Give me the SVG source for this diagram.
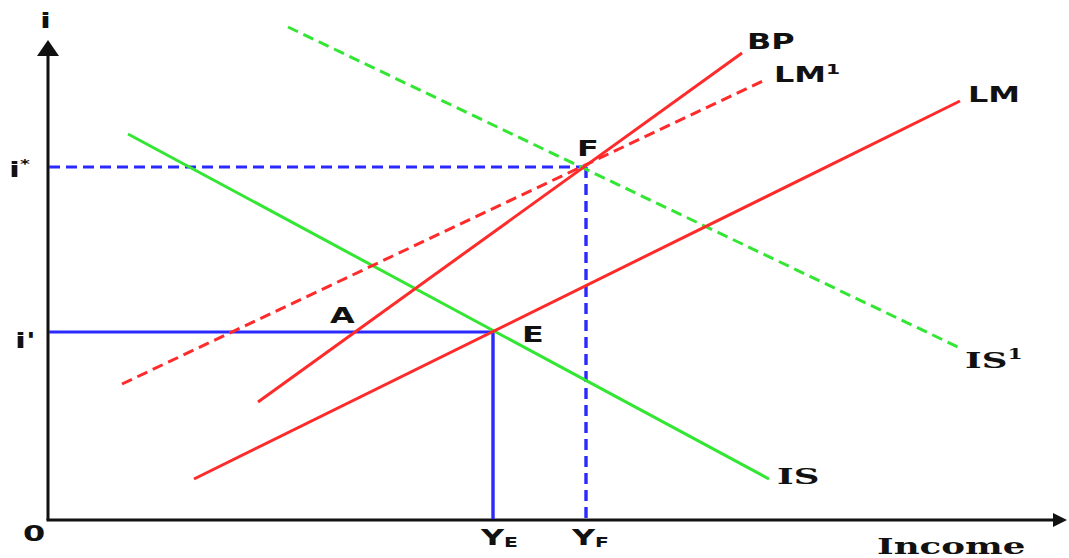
<svg xmlns="http://www.w3.org/2000/svg" width="1069" height="558" viewBox="0 0 1069 558">
<style>
.ax{stroke:#111;stroke-width:3;fill:none}
.ln{fill:none;stroke-width:3;stroke-linecap:butt}
.red{stroke:#ff2a2a}
.grn{stroke:#33e633}
.blu{stroke:#2a2aff}
.dash{stroke-dasharray:11 6}
.s{font-family:"DejaVu Sans",Verdana,sans-serif;font-weight:bold;font-size:22px;fill:#111}
.r{font-family:"DejaVu Serif",serif;font-weight:bold;font-size:23px;fill:#111}
</style>
<rect width="1069" height="558" fill="#fff"/>
<g id="axes">
<line class="ax" x1="48" y1="54" x2="48" y2="520"/>
<line class="ax" x1="46.5" y1="520" x2="1055" y2="520"/>
<polygon points="48,40 37,56 59,56" fill="#111"/>
<polygon points="1067,520 1053,513 1053,527" fill="#111"/>
</g>
<g id="connectors">
<line class="ln blu" x1="49" y1="332" x2="493" y2="332"/>
<line class="ln blu" x1="493" y1="332" x2="493" y2="519" style="stroke-width:3.4"/>
<line class="ln blu dash" x1="49" y1="167" x2="586" y2="167"/>
<line class="ln blu dash" x1="586" y1="167" x2="586" y2="519" style="stroke-width:3.4"/>
<line class="ln grn" x1="128" y1="134" x2="769" y2="479"/>
<line class="ln grn dash" x1="288" y1="27" x2="960" y2="348"/>
<line class="ln red" x1="194" y1="479" x2="960" y2="101"/>
<line class="ln red dash" x1="122" y1="384" x2="767" y2="79"/>
<line class="ln red" x1="258" y1="402" x2="742" y2="53"/>
</g>
<g id="labels">
<text class="s" transform="translate(40,28) scale(1.45,1)">i</text>
<text class="s" transform="translate(15,348) scale(1.45,1)">i'</text>
<text class="s" transform="translate(9,177) scale(1.45,1)">i<tspan font-size="13" dy="-9">*</tspan></text>
<text class="s" transform="translate(23,541) scale(1.45,1)">0</text>
<text class="s" transform="translate(747,49) scale(1.45,1)">BP</text>
<text class="s" transform="translate(774,82) scale(1.45,1)">LM<tspan font-size="14" dy="-8">1</tspan></text>
<text class="s" transform="translate(968,102) scale(1.45,1)">LM</text>
<text class="s" transform="translate(577,156) scale(1.45,1)">F</text>
<text class="s" transform="translate(522,342) scale(1.45,1)">E</text>
<text class="s" transform="translate(330,323) scale(1.45,1)">A</text>
<text class="s" transform="translate(481,545) scale(1.45,1)">Y<tspan font-size="14" dy="2">E</tspan></text>
<text class="s" transform="translate(572,545) scale(1.45,1)">Y<tspan font-size="14" dy="2">F</tspan></text>
<text class="r" transform="translate(777,484) scale(1.55,1)">IS</text>
<text class="r" transform="translate(965,368) scale(1.55,1)">IS<tspan font-size="14" dy="-9">1</tspan></text>
<text class="r" transform="translate(877,554) scale(1.55,1)">Income</text>
</g>
</svg>
